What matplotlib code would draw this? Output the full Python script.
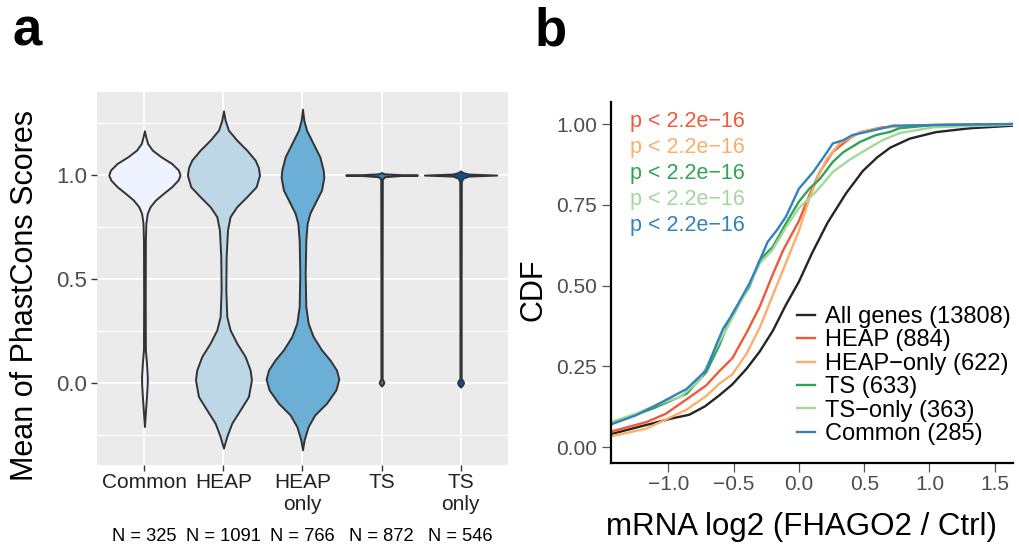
import matplotlib.pyplot as plt

plt.rcParams['font.family'] = ['Liberation Sans', 'DejaVu Sans']

# ---------------- panel a: violins (score, half width in category units) ----------------
categories = ['Common', 'HEAP', 'HEAP\nonly', 'TS', 'TS\nonly']
n_labels = ['N = 325', 'N = 1091', 'N = 766', 'N = 872', 'N = 546']
violin_fill = ['#EFF3FF', '#BDD7E7', '#6BAED6', '#3182BD', '#08519C']

common_y = [1.213, 1.184, 1.152, 1.120, 1.088, 1.056, 1.024, 1.0, 0.976, 0.944, 0.912, 0.880,
            0.848, 0.816, 0.768, 0.688, 0.40, 0.159, 0.095, 0.030, 0.0, -0.066, -0.130, -0.178, -0.210]
common_w = [0, .017, .040, .100, .210, .345, .430, .451, .425, .345, .240, .140,
            .072, .036, .018, .012, .010, .012, .026, .036, .036, .026, .014, .006, 0]

heap_y = [1.309, 1.264, 1.216, 1.168, 1.120, 1.072, 1.036, 1.0, 0.944, 0.896, 0.848, 0.800, 0.736, 0.607,
          0.447, 0.319, 0.255, 0.191, 0.127, 0.062, 0.014, -0.066, -0.130, -0.194, -0.258, -0.314]
heap_w = [0, .021, .063, .169, .295, .401, .442, .456, .414, .295, .169, .084, .051, .034,
          .030, .042, .084, .169, .274, .338, .354, .316, .211, .105, .042, 0]

heap_only_y = [1.317, 1.264, 1.216, 1.152, 1.088, 1.024, 0.989, 0.928, 0.864, 0.816, 0.768, 0.688, 0.527,
               0.367, 0.287, 0.223, 0.159, 0.111, 0.062, 0.018, -0.034, -0.098, -0.154, -0.210, -0.274, -0.322]
heap_only_w = [0, .017, .051, .135, .219, .262, .270, .241, .156, .093, .059, .042, .034,
               .042, .072, .135, .241, .346, .430, .460, .422, .304, .156, .072, .021, 0]

ts_y = [1.012, 1.006, 1.002, 1.0, 0.998, 0.992, 0.98, 0.5, 0.02, 0.008, 0.0, -0.008, -0.015]
ts_w = [0, 0.04, 0.25, 0.454, 0.25, 0.04, 0.010, 0.008, 0.008, 0.024, 0.030, 0.016, 0]

ts_only_y = [1.02, 1.012, 1.005, 1.0, 0.995, 0.985, 0.97, 0.5, 0.02, 0.01, 0.0, -0.01, -0.02]
ts_only_w = [0, 0.03, 0.10, 0.458, 0.10, 0.03, 0.010, 0.008, 0.008, 0.030, 0.038, 0.026, 0]

violins = [(common_y, common_w), (heap_y, heap_w), (heap_only_y, heap_only_w),
           (ts_y, ts_w), (ts_only_y, ts_only_w)]

# ---------------- panel b: CDF curves ----------------
all_x = [-1.44, -1.23, -0.98, -0.84, -0.72, -0.61, -0.51, -0.40, -0.30, -0.20, -0.10, 0.0,
         0.10, 0.22, 0.36, 0.49, 0.60, 0.70, 0.85, 1.05, 1.31, 1.64]
all_y = [0.040, 0.062, 0.088, 0.100, 0.126, 0.160, 0.194, 0.243, 0.296, 0.360, 0.440, 0.512,
         0.600, 0.695, 0.785, 0.855, 0.897, 0.927, 0.955, 0.975, 0.987, 0.995]

heap_cx = [-1.44, -1.17, -1.02, -0.86, -0.71, -0.61, -0.51, -0.40, -0.30, -0.20, -0.12, 0.0,
           0.08, 0.16, 0.26, 0.39, 0.47, 0.64, 1.0, 1.64]
heap_cy = [0.048, 0.077, 0.103, 0.148, 0.191, 0.235, 0.275, 0.355, 0.435, 0.535, 0.610, 0.700,
           0.780, 0.852, 0.914, 0.956, 0.975, 0.990, 0.997, 1.0]

heap_only_cx = [-1.44, -1.17, -1.02, -0.86, -0.71, -0.61, -0.51, -0.40, -0.30, -0.20, -0.10, 0.0,
                0.08, 0.15, 0.21, 0.31, 0.47, 0.67, 1.0, 1.64]
heap_only_cy = [0.033, 0.057, 0.085, 0.116, 0.158, 0.196, 0.225, 0.290, 0.370, 0.470, 0.570, 0.670,
                0.770, 0.840, 0.890, 0.940, 0.975, 0.990, 0.997, 1.0]

ts_cx = [-1.44, -1.12, -0.86, -0.71, -0.61, -0.51, -0.38, -0.30, -0.20, -0.10, 0.0,
         0.08, 0.16, 0.26, 0.34, 0.47, 0.59, 0.70, 0.77, 1.03, 1.64]
ts_cy = [0.074, 0.119, 0.165, 0.232, 0.315, 0.413, 0.496, 0.579, 0.620, 0.692, 0.760,
         0.800, 0.830, 0.883, 0.913, 0.945, 0.966, 0.976, 0.987, 0.997, 1.0]

ts_only_cx = [-1.44, -1.25, -1.07, -0.91, -0.76, -0.66, -0.56, -0.40, -0.30, -0.20, -0.10, 0.0,
              0.13, 0.26, 0.39, 0.52, 0.64, 0.77, 1.03, 1.64]
ts_only_cy = [0.077, 0.103, 0.134, 0.155, 0.207, 0.289, 0.362, 0.486, 0.568, 0.612, 0.680, 0.740,
              0.790, 0.852, 0.890, 0.922, 0.950, 0.972, 0.990, 0.998]

common_cx = [-1.44, -1.25, -1.12, -0.99, -0.86, -0.79, -0.71, -0.63, -0.58, -0.51, -0.45, -0.38,
             -0.33, -0.24, -0.17, -0.10, 0.0, 0.11, 0.20, 0.26, 0.34, 0.41, 0.52, 0.64, 0.72, 1.64]
common_cy = [0.070, 0.098, 0.124, 0.152, 0.180, 0.207, 0.238, 0.320, 0.367, 0.411, 0.455, 0.506,
             0.550, 0.635, 0.671, 0.713, 0.800, 0.852, 0.904, 0.940, 0.950, 0.966, 0.976, 0.987, 0.995, 1.0]

cdf_labels = ['All genes (13808)', 'HEAP (884)', 'HEAP\u2212only (622)', 'TS (633)',
              'TS\u2212only (363)', 'Common (285)']
cdf_colors = ['#252525', '#EE5A3A', '#FDAE6B', '#31A354', '#A1D99B', '#3182BD']
cdf_series = [(all_x, all_y), (heap_cx, heap_cy), (heap_only_cx, heap_only_cy),
              (ts_cx, ts_cy), (ts_only_cx, ts_only_cy), (common_cx, common_cy)]
p_text = 'p < 2.2e\u221216'

fig = plt.figure(figsize=(10.19, 5.46), dpi=100)

# ---- panel a ----
ax1 = fig.add_axes([0.0952, 0.1484, 0.4033, 0.6832])
ax1.set_facecolor('#EBEBEB')
for s in ax1.spines.values():
    s.set_visible(False)
ax1.set_axisbelow(True)
ax1.set_yticks([-0.25, 0.25, 0.75, 1.25], minor=True)
ax1.grid(which='major', color='white', linewidth=1.3)
ax1.grid(which='minor', axis='y', color='white', linewidth=0.7)

positions = range(1, len(categories) + 1)
for pos, (vy, vw), col in zip(positions, violins, violin_fill):
    ax1.fill_betweenx(vy, [pos - w for w in vw], [pos + w for w in vw],
                      facecolor=col, edgecolor='#333333', linewidth=1.4,
                      joinstyle='round', zorder=3)

ax1.set_xlim(0.4, 5.6)
ax1.set_ylim(-0.395, 1.40)
ax1.set_xticks(list(positions), categories)
ax1.set_yticks([0.0, 0.5, 1.0], ['0.0', '0.5', '1.0'])
ax1.tick_params(axis='x', which='major', length=4, width=1, color='#333333',
                labelsize=15, labelcolor='#222222', pad=2)
ax1.tick_params(axis='y', which='major', length=4, width=1, color='#333333',
                labelsize=16, labelcolor='#4D4D4D', pad=3)
ax1.tick_params(which='minor', length=0)
for pos, lab in zip(positions, n_labels):
    ax1.text(pos, -0.193, lab, transform=ax1.get_xaxis_transform(),
             ha='center', va='center', fontsize=13.2, color='black')
ax1.text(-0.175, 0.453, 'Mean of PhastCons Scores', transform=ax1.transAxes,
         rotation=90, ha='center', va='center', fontsize=22)

# ---- panel b ----
ax2 = fig.add_axes([0.5996, 0.152, 0.3945, 0.661])
for (cx, cy), col, lab in zip(cdf_series, cdf_colors, cdf_labels):
    ax2.plot(cx, cy, color=col, linewidth=1.7, label=lab)

ax2.set_xlim(-1.44, 1.64)
ax2.set_ylim(-0.0495, 1.068)
ax2.spines['top'].set_visible(False)
ax2.spines['right'].set_visible(False)
ax2.spines['left'].set_linewidth(1.6)
ax2.spines['bottom'].set_linewidth(1.6)
ax2.set_xticks([-1.0, -0.5, 0.0, 0.5, 1.0, 1.5],
               ['\u22121.0', '\u22120.5', '0.0', '0.5', '1.0', '1.5'])
ax2.set_yticks([0.0, 0.25, 0.5, 0.75, 1.0], ['0.00', '0.25', '0.50', '0.75', '1.00'])
ax2.tick_params(length=6.5, width=0.9, color='#555555', labelsize=15,
                labelcolor='#4D4D4D')
ax2.tick_params(axis='y', pad=3.5)
ax2.tick_params(axis='x', pad=2)

for i, col in enumerate(cdf_colors[1:]):
    ax2.text(0.047, 0.9316 - 0.072 * i, p_text, transform=ax2.transAxes,
             ha='left', va='baseline', fontsize=15.5, color=col)

ax2.text(-0.194, 0.479, 'CDF', transform=ax2.transAxes, rotation=90,
         ha='center', va='center', fontsize=22)
ax2.text(0.474, -0.177, 'mRNA log2 (FHAGO2 / Ctrl)', transform=ax2.transAxes,
         ha='center', va='center', fontsize=22.5)

ax2.legend(loc='center left', bbox_to_anchor=(797 / 1019, 1 - 375.5 / 546),
           bbox_transform=fig.transFigure, frameon=False, fontsize=17,
           handlelength=0.76, handletextpad=0.42, labelspacing=0.06,
           borderpad=0, borderaxespad=0)

fig.text(13 / 1019, 1 - 46 / 546, 'a', fontsize=38, fontweight='bold', ha='left', va='baseline')
fig.text(535 / 1019, 1 - 46 / 546, 'b', fontsize=38, fontweight='bold', ha='left', va='baseline')

fig.savefig('out.png', dpi=100)
